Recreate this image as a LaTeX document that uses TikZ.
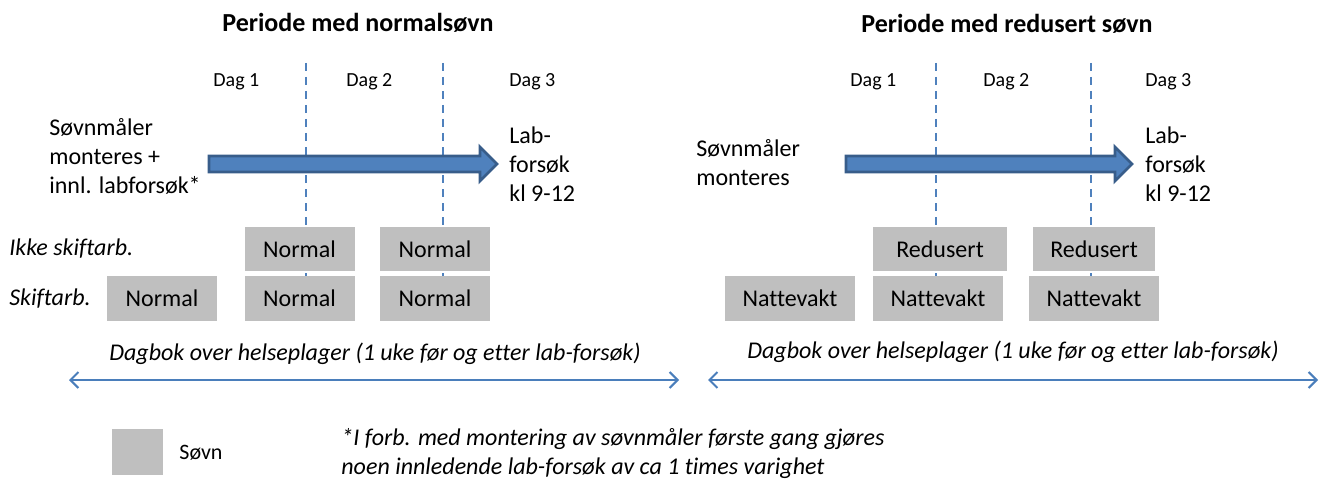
\documentclass[tikz,border=0pt]{standalone}
\usepackage{fontspec}
\setmainfont{Carlito}[Ligatures=NoCommon]
\usetikzlibrary{arrows.meta,shapes.arrows}
\definecolor{sleepgray}{HTML}{BFBFBF}
\definecolor{dayblue}{HTML}{4F81BD}
\definecolor{arrowedge}{HTML}{385D8A}
\definecolor{diaryblue}{HTML}{4A7EBB}

\begin{document}
\begin{tikzpicture}
      [x=0.5pt, y=-0.5pt,
        >={Straight Barb[length=4pt,width=8pt]},
        heading/.style={font=\fontsize{13}{15}\selectfont\bfseries, anchor=base},
        day/.style={font=\fontsize{10}{12}\selectfont, anchor=base west, inner sep=0pt},
        sidetext/.style={font=\fontsize{12}{14.5}\selectfont, align=left, anchor=west, inner sep=0pt},
        group/.style={font=\fontsize{12}{14.5}\selectfont\itshape, anchor=base west, inner sep=0pt},
        sleep/.style={fill=sleepgray, minimum height=22pt, inner sep=0pt,
          font=\fontsize{12}{14.5}\selectfont},
        divider/.style={draw=dayblue, line width=1pt, dash pattern=on 4pt off 3pt},
        period/.style={single arrow, draw=arrowedge, fill=dayblue, line width=1.4pt,
          single arrow head extend=4.5pt, inner xsep=0pt, inner ysep=3.3pt,
          text height=0pt, text depth=0pt},
        diary/.style={draw=diaryblue, line width=1pt, <->},
        note/.style={font=\fontsize{12}{14.5}\selectfont\itshape, align=left, anchor=west, inner sep=0pt}]
      \useasboundingbox (0,0) rectangle (1327,481);
      \node[heading] (normtitle) at (358,32) {Periode med normalsøvn};
      \node[heading] (redtitle) at (1007,33) {Periode med redusert søvn};
      \foreach \x in {306,443,936,1091}
        \draw[divider] (\x,63) -- (\x,300);
      \node[day] (nday1) at (213,87) {Dag 1};
      \node[day] (nday2) at (346,87) {Dag 2};
      \node[day] (nday3) at (509,87) {Dag 3};
      \node[day] (rday1) at (850,87) {Dag 1};
      \node[day] (rday2) at (983,87) {Dag 2};
      \node[day] (rday3) at (1145,87) {Dag 3};
      \node[sidetext] (nmount) at (49,156) {Søvnmåler\\monteres +\\innl. labforsøk*};
      \node[sidetext] (nlab) at (509,164) {Lab-\\forsøk\\kl 9-12};
      \node[sidetext] (rmount) at (696,163) {Søvnmåler\\monteres};
      \node[sidetext] (rlab) at (1145,164) {Lab-\\forsøk\\kl 9-12};
      \node[period, minimum height=144pt] (narrow) at (349,164) {};
      \node[period, minimum height=143pt] (rarrow) at (985,164) {};
      \node[group] (ikke) at (9,255) {Ikke skiftarb.};
      \node[group] (skift) at (9,305) {Skiftarb.};
      \node[sleep, minimum width=55pt] (nikke1) at (299.5,249) {Normal};
      \node[sleep, minimum width=55pt] (nikke2) at (435,249) {Normal};
      \node[sleep, minimum width=55pt, minimum height=22.5pt] (nskift0) at (162,298.5) {Normal};
      \node[sleep, minimum width=55pt, minimum height=22.5pt] (nskift1) at (299.5,298.5) {Normal};
      \node[sleep, minimum width=55pt, minimum height=22.5pt] (nskift2) at (435,298.5) {Normal};
      \node[sleep, minimum width=67pt] (rikke1) at (940,249) {Redusert};
      \node[sleep, minimum width=61pt] (rikke2) at (1094,249) {Redusert};
      \node[sleep, minimum width=65pt, minimum height=22.5pt] (rskift0) at (790,298.5) {Nattevakt};
      \node[sleep, minimum width=65pt, minimum height=22.5pt] (rskift1) at (938,298.5) {Nattevakt};
      \node[sleep, minimum width=65pt, minimum height=22.5pt] (rskift2) at (1094,298.5) {Nattevakt};
      \node[group, anchor=base] (ndiary) at (375,360)
        {Dagbok over helseplager (1 uke før og etter lab-forsøk)};
      \node[group, anchor=base] (rdiary) at (1013,358)
        {Dagbok over helseplager (1 uke før og etter lab-forsøk)};
      \coordinate (nstart) at (69,380);
      \coordinate (nend) at (679,380);
      \coordinate (rstart) at (708,380);
      \coordinate (rend) at (1318,380);
      \draw[diary] (nstart) -- (nend);
      \draw[diary] (rstart) -- (rend);
      \node[sleep, minimum width=25.5pt, minimum height=23pt] (legend) at (137.5,452) {};
      \node[sidetext, font=\fontsize{11}{14}\selectfont] (legendtext) at (179,453) {Søvn};
      \node[note] (footnote) at (341,454)
        {*I forb. med montering av søvnmåler første gang gjøres\\noen innledende lab-forsøk av ca 1 times varighet};
    \end{tikzpicture}
\end{document}
